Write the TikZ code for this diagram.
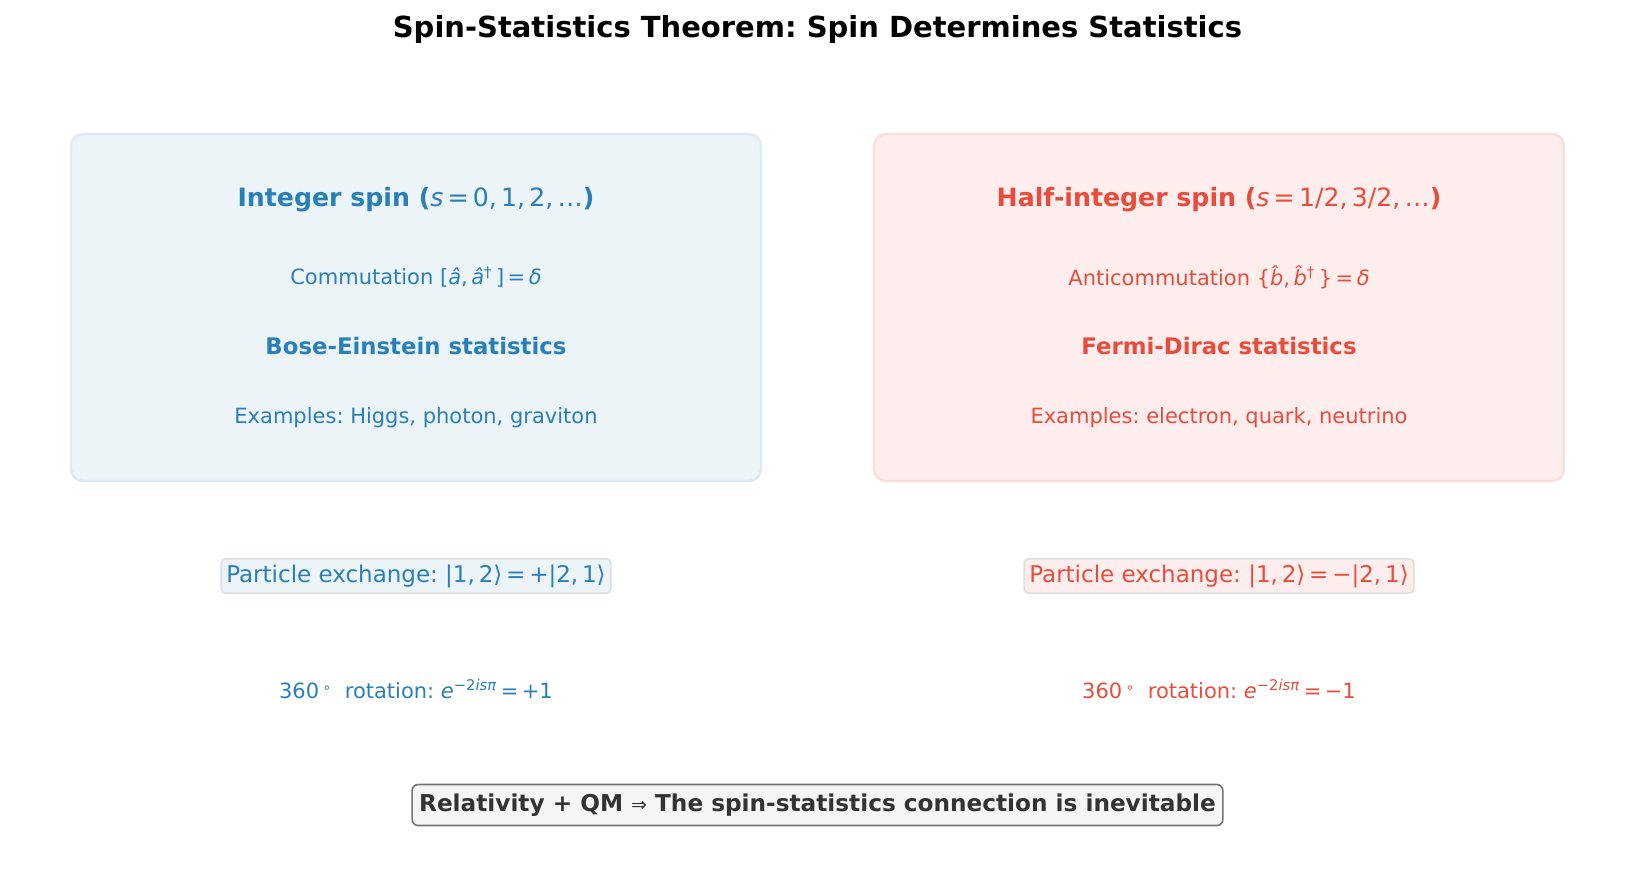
\documentclass[tikz,border=0pt]{standalone}
\usepackage{fontspec}
\setmainfont{DejaVu Sans}
\definecolor{bl}{HTML}{2980B9}
\definecolor{rd}{HTML}{E74C3C}
\definecolor{blfill}{HTML}{ECF4F8}
\definecolor{rdfill}{HTML}{FDEEED}
\definecolor{bledge}{HTML}{DCEAF3}
\definecolor{rdedge}{HTML}{FBDEDB}
\definecolor{exedge}{HTML}{DCDFE2}
\definecolor{dark}{HTML}{333333}
\newcommand{\mi}[1]{\textit{#1}}
\newcommand{\degsym}{\raisebox{0.55ex}{\scriptsize ∘}}
\frenchspacing
\tikzset{
  bigbox/.style={rounded corners=6pt, line width=1.2pt, minimum width=345pt, minimum height=173.5pt, inner sep=0pt},
  head/.style={font=\fontsize{12.6}{14}\selectfont\bfseries},
  stat/.style={font=\fontsize{11.4}{13}\selectfont\bfseries},
  line/.style={font=\fontsize{10.5}{12}\selectfont},
  exbox/.style={rounded corners=2pt, line width=0.8pt, draw=exedge, inner xsep=2.5pt, inner ysep=2.8pt, font=\fontsize{11.5}{13}\selectfont},
  rot/.style={font=\fontsize{10.5}{12}\selectfont},
  concl/.style={rounded corners=3pt, line width=0.8pt, draw=gray!90!black, fill=black!4, text=dark, inner xsep=3.5pt, inner ysep=4.6pt, font=\fontsize{11.6}{13}\selectfont\bfseries}
}
\begin{document}
\begin{tikzpicture}[x=0.5pt,y=-0.5pt]
\useasboundingbox (0,0) rectangle (1635,884);
\node[font=\fontsize{14.5}{16}\selectfont\bfseries] (title) at (817.5,29) {Spin-Statistics Theorem: Spin Determines Statistics};
% left column
\node[bigbox, fill=blfill, draw=bledge] (lbox) at (416,307.5) {};
\node[head, text=bl] (lhead) at (416,200) {Integer spin (\mdseries\mi{s}\,=\,0,\,1,\,2,\,…\bfseries)};
\node[line, text=bl] (lcomm) at (416,277) {Commutation [\mi{â},\,\mi{â}\textsuperscript{†}\,]\,=\,\mi{δ}};
\node[stat, text=bl] (lstat) at (416,346) {Bose-Einstein statistics};
\node[line, text=bl] (lex) at (416,418) {Examples: Higgs, photon, graviton};
\node[exbox, fill=blfill, text=bl] (lexch) at (416,576) {Particle exchange: |1,\,2⟩\,=\,+|2,\,1⟩};
\node[rot, text=bl] (lrot) at (416,689) {360\,\degsym\ \ rotation: \mi{e}\textsuperscript{−2\mi{isπ}}\,=\,+1};
% right column
\node[bigbox, fill=rdfill, draw=rdedge] (rbox) at (1219,307.5) {};
\node[head, text=rd] (rhead) at (1219,200) {Half-integer spin (\mdseries\mi{s}\,=\,1/2,\,3/2,\,…\bfseries)};
\node[line, text=rd] (rcomm) at (1219,277) {Anticommutation \{\mi{\^{b}},\,\mi{\^{b}}\textsuperscript{†}\,\}\,=\,\mi{δ}};
\node[stat, text=rd] (rstat) at (1219,346) {Fermi-Dirac statistics};
\node[line, text=rd] (rex) at (1219,418) {Examples: electron, quark, neutrino};
\node[exbox, fill=rdfill, text=rd] (rexch) at (1219,576) {Particle exchange: |1,\,2⟩\,=\,−|2,\,1⟩};
\node[rot, text=rd] (rrot) at (1219,689) {360\,\degsym\ \ rotation: \mi{e}\textsuperscript{−2\mi{isπ}}\,=\,−1};
% conclusion
\node[concl] (concl) at (817.5,805) {Relativity + QM {\mdseries\fontsize{9.5}{11}\selectfont⇒}\ The spin-statistics connection is inevitable};
\end{tikzpicture}
\end{document}
